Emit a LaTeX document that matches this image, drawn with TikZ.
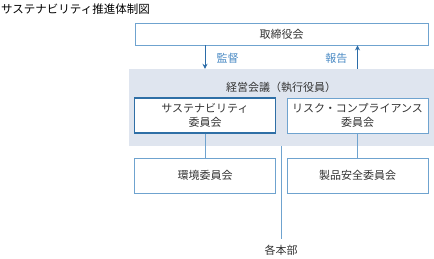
\documentclass[tikz,border=0pt]{standalone}
\usepackage{fontspec}
\setmainfont{Noto Sans CJK JP}
\usetikzlibrary{arrows.meta,calc,positioning}

\definecolor{bandgray}{HTML}{DFE5EF}
\definecolor{lineblue}{HTML}{6FA3CF}
\definecolor{darkblue}{HTML}{2F6FA6}
\definecolor{arrowblue}{HTML}{2B6CA8}
\definecolor{labelblue}{HTML}{4A8AC4}
\definecolor{textgray}{HTML}{333333}

\tikzset{
  box/.style={draw=lineblue, line width=0.9pt, fill=white, text=textgray,
    minimum width=141pt, minimum height=35pt, inner sep=0pt, align=center,
    font=\fontsize{11pt}{13.5pt}\selectfont},
  mainbox/.style={box, draw=darkblue, line width=1.3pt},
  link/.style={draw=lineblue, line width=0.9pt},
  flow/.style={draw=arrowblue, line width=1pt, -{Stealth[length=5pt,width=5pt]}},
}

\begin{document}
\begin{tikzpicture}[x=1pt,y=-1pt]

\useasboundingbox (0,0) rectangle (434,259);

% Title
\node[anchor=west, text=black, font=\fontsize{11.5pt}{13pt}\selectfont, inner sep=0pt] (title) at (1,9) {サステナビリティ推進体制図};

% Board
\node[box, minimum width=293pt, minimum height=22pt] (board) at (281.5,34) {取締役会};

% Management band
\node[fill=bandgray, minimum width=305pt, minimum height=77pt, inner sep=0pt] (band) at (281.5,107.5) {};
\node[text=textgray, font=\fontsize{11pt}{13pt}\selectfont] (meeting) at (281,87) {経営会議（執行役員）};

% Committees
\node[mainbox] (sus)  at (205,115.5)   {サステナビリティ\\委員会};
\node[box]     (comp) at (357.5,115.5) {リスク・コンプライアンス\\委員会};
\node[box]     (env)  at (205,175.5)   {環境委員会};
\node[box]     (prod) at (357.5,175.5) {製品安全委員会};

% Divisions
\node[text=textgray, font=\fontsize{11pt}{13pt}\selectfont] (div) at (281,250) {各本部};
\coordinate (divtop) at (281,239);

% Arrows
\draw[flow] (board.south -| sus.north) -- (band.north -| sus.north);
\draw[flow] (band.north -| comp.north) -- (board.south -| comp.north);
\node[text=labelblue, anchor=west, font=\fontsize{11pt}{13pt}\selectfont] (watch) at (213,58) {監督};
\node[text=labelblue, anchor=east, font=\fontsize{11pt}{13pt}\selectfont] (report) at (351,58) {報告};

% Links
\draw[link] (sus.south) -- (env.north);
\draw[link] (comp.south) -- (prod.north);
\draw[link] (band.south -| divtop) -- (divtop);

\end{tikzpicture}
\end{document}
